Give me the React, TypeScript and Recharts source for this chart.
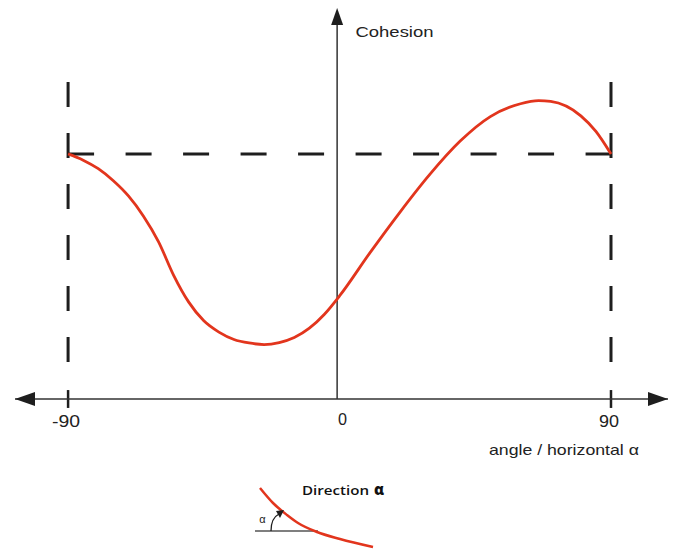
import React from 'react';
import { LineChart, Line, XAxis, YAxis, ReferenceLine, ReferenceDot } from 'recharts';

// Main curve: cohesion vs angle to horizontal
const angles = [-90, -85, -80, -75, -70, -65, -60, -55, -50, -45, -40, -35, -30, -25, -20, -15, -10, -5, 0, 10, 20, 30, 40, 50, 60, 66, 70, 80, 85, 90];
const cohesion = [63, 61.4, 59.2, 56.1, 52.2, 47.0, 40.4, 31.8, 24.9, 20.1, 17.2, 15.3, 14.4, 14.0, 14.5, 15.8, 18.2, 21.8, 26.5, 37.5, 48, 57.8, 66.3, 72.6, 75.9, 76.7, 76.5, 72.8, 68.8, 63];
const tickAngles = [-90, 0, 90];
const tickLabels = ['-90', '0', '90'];
const boundaryValue = 63;
const yTitle = 'Cohesion';
const xTitle = 'angle / horizontal \u03b1';

// Inset sketch: direction of the plane
const insetX = [10, 23, 37, 48, 67, 90, 123];
const insetY = [10, 25, 37, 45, 54, 61, 69];
const insetTitle = 'Direction';
const alpha = '\u03b1';

const data = angles.map((a, i) => ({ angle: a, c: cohesion[i] }));
const insetData = insetX.map((x, i) => ({ x, y: insetY[i] }));

const INK = '#1e1e1e';
const AXIS = '#333';
const RED = '#e2351d';
const FONT = '"Liberation Sans", Arial, Helvetica, sans-serif';

const ArrowLeft = (p: any) => (
  <path d={`M${p.cx},${p.cy} L${p.cx + 20},${p.cy - 7} L${p.cx + 20},${p.cy + 7} Z`} fill={INK} />
);
const ArrowRight = (p: any) => (
  <path d={`M${p.cx},${p.cy} L${p.cx - 20},${p.cy - 7} L${p.cx - 20},${p.cy + 7} Z`} fill={INK} />
);
const ArrowUp = (p: any) => (
  <path d={`M${p.cx},${p.cy - 2} L${p.cx - 6},${p.cy + 15} L${p.cx + 6},${p.cy + 15} Z`} fill={INK} />
);

const Tick = (p: any) => {
  const i = tickAngles.indexOf(p.payload.value);
  const label = tickLabels[i] ?? String(p.payload.value);
  const isZero = p.payload.value === 0;
  return (
    <text
      x={p.x + (isZero ? 3 : -2)}
      y={p.y + (isZero ? 26 : 28)}
      textAnchor="middle"
      fontFamily={FONT}
      fontSize={16}
      fill="#222"
      textLength={label.length === 3 ? 28 : label.length === 2 ? 20 : 9}
      lengthAdjust="spacingAndGlyphs"
    >
      {label}
    </text>
  );
};

const CohesionLabel = (p: any) => (
  <text x={p.cx} y={p.cy} fontFamily={FONT} fontSize={15} fill="#222" textLength={78} lengthAdjust="spacingAndGlyphs">
    {yTitle}
  </text>
);
const AngleLabel = (p: any) => (
  <text x={p.cx} y={p.cy} textAnchor="middle" fontFamily={FONT} fontSize={15} fill="#222" textLength={150} lengthAdjust="spacingAndGlyphs">
    {xTitle}
  </text>
);

const AngleArc = (p: any) => (
  <g>
    <path d={`M${p.cx},${p.cy} Q${p.cx},${p.cy - 13} ${p.cx + 8},${p.cy - 17}`} fill="none" stroke={INK} strokeWidth={1.3} />
    <path d={`M${p.cx + 13},${p.cy - 21} L${p.cx + 5},${p.cy - 20} L${p.cx + 9},${p.cy - 13} Z`} fill={INK} />
  </g>
);
const SmallAlpha = (p: any) => (
  <text x={p.cx} y={p.cy} textAnchor="middle" fontFamily={FONT} fontSize={11} fill="#222">
    {alpha}
  </text>
);
const DirectionLabel = (p: any) => (
  <g>
    <text x={p.cx} y={p.cy} fontFamily='"Open Sans", "Noto Sans", sans-serif' fontSize={13} fontWeight={600} fill="#111" textLength={67} lengthAdjust="spacingAndGlyphs">
      {insetTitle}
    </text>
    <text x={p.cx + 72} y={p.cy} fontFamily='"Open Sans", "Noto Sans", sans-serif' fontSize={15} fontWeight={800} fill="#111">
      {alpha}
    </text>
  </g>
);

export default function App() {
  return (
    <div style={{ position: 'absolute', left: 0, top: 0, width: 683, height: 550, background: '#fff' }}>
      <LineChart width={683} height={550} data={data} margin={{ top: 10, right: 15, bottom: 121, left: 15 }}>
        <XAxis
          type="number"
          dataKey="angle"
          domain={[-107.6, 108.9]}
          ticks={tickAngles}
          interval={0}
          height={30}
          tickLine={false}
          tickSize={0}
          tickMargin={0}
          axisLine={{ stroke: AXIS, strokeWidth: 1.5 }}
          tick={<Tick />}
          allowDataOverflow
        />
        <YAxis type="number" domain={[0, 100]} hide allowDataOverflow />

        {/* vertical axis */}
        <ReferenceLine segment={[{ x: -0.8, y: 0 }, { x: -0.8, y: 97 }]} stroke={AXIS} strokeWidth={1.5} ifOverflow="visible" />
        <ReferenceDot x={-0.8} y={100} r={0} shape={ArrowUp} ifOverflow="visible" />
        <ReferenceDot x={-107.6} y={0} r={0} shape={ArrowLeft} ifOverflow="visible" />
        <ReferenceDot x={108.9} y={0} r={0} shape={ArrowRight} ifOverflow="visible" />

        {/* tick marks at +-90 */}
        <ReferenceLine segment={[{ x: -90, y: -2.3 }, { x: -90, y: 2.3 }]} stroke={INK} strokeWidth={2.5} ifOverflow="visible" />
        <ReferenceLine segment={[{ x: 90, y: -2.3 }, { x: 90, y: 2.3 }]} stroke={INK} strokeWidth={2.5} ifOverflow="visible" />

        {/* dashed frame */}
        <ReferenceLine segment={[{ x: -90, y: 81.5 }, { x: -90, y: 9.5 }]} stroke={INK} strokeWidth={3} strokeDasharray="25 26" ifOverflow="visible" />
        <ReferenceLine segment={[{ x: 90, y: 81.5 }, { x: 90, y: 9.5 }]} stroke={INK} strokeWidth={3} strokeDasharray="25 26" ifOverflow="visible" />
        <ReferenceLine segment={[{ x: -90, y: boundaryValue }, { x: 90, y: boundaryValue }]} stroke={INK} strokeWidth={3} strokeDasharray="26 31.5" ifOverflow="visible" />

        <Line type="monotone" dataKey="c" stroke={RED} strokeWidth={2.8} dot={false} isAnimationActive={false} />

        <ReferenceDot x={5.3} y={93} r={0} shape={CohesionLabel} ifOverflow="visible" />
        <ReferenceDot x={74.4} y={-14.3} r={0} shape={AngleLabel} ifOverflow="visible" />
      </LineChart>

      <div style={{ position: 'absolute', left: 250, top: 478 }}>
        <LineChart width={160} height={72} data={insetData} margin={{ top: 0, right: 0, bottom: 0, left: 0 }}>
          <XAxis type="number" dataKey="x" domain={[0, 160]} hide />
          <YAxis type="number" domain={[0, 72]} reversed hide />
          <ReferenceLine segment={[{ x: 5, y: 53 }, { x: 68, y: 53 }]} stroke="#555" strokeWidth={1.5} />
          <Line type="monotone" dataKey="y" stroke={RED} strokeWidth={2.5} dot={false} isAnimationActive={false} />
          <ReferenceDot x={21} y={53} r={0} shape={AngleArc} ifOverflow="visible" />
          <ReferenceDot x={12.5} y={45} r={0} shape={SmallAlpha} ifOverflow="visible" />
          <ReferenceDot x={52} y={17} r={0} shape={DirectionLabel} ifOverflow="visible" />
        </LineChart>
      </div>
    </div>
  );
}
